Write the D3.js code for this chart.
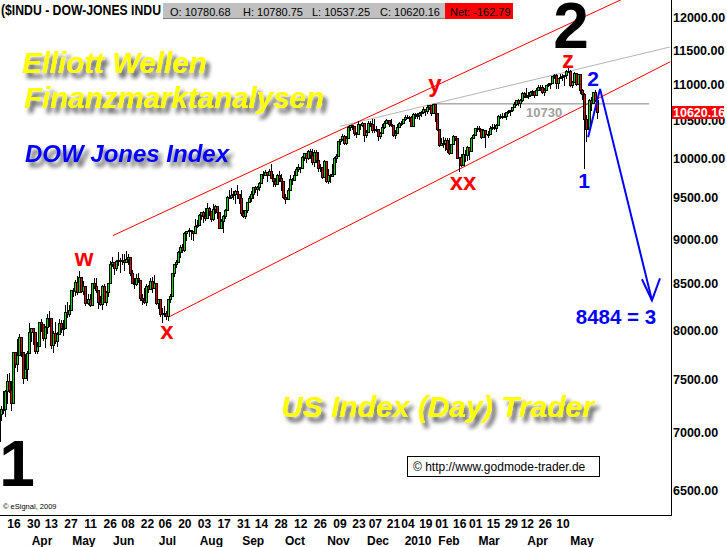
<!DOCTYPE html>
<html><head><meta charset="utf-8">
<script src="https://cdn.jsdelivr.net/npm/d3@7"></script>
<style>body{margin:0;background:#fff;overflow:hidden}svg{display:block}</style>
</head><body>
<script>
// Daily candles [open, high, low, close], DJIA, 11 Mar 2009 .. 14 May 2010
const mar09=[[6926,7022,6882,6930],[6930,7172,6851,7170],[7170,7250,7118,7224],[7224,7392,7181,7217],[7217,7402,7157,7396],[7396,7557,7278,7487],[7487,7563,7382,7401],[7401,7487,7214,7278],[7278,7776,7278,7776],[7776,7776,7621,7660],[7660,7905,7589,7750],[7750,7958,7750,7925],[7925,7925,7738,7776],[7776,7776,7468,7522],[7522,7753,7522,7609]];
const apr09=[[7609,7788,7500,7762],[7762,8076,7762,7978],[7978,8026,7890,8018],[8018,8018,7854,7976],[7976,7976,7768,7790],[7790,7880,7770,7837],[7837,8083,7837,8083],[8083,8118,7990,8058],[8058,8058,7900,7920],[7920,8045,7830,8030],[8030,8170,7970,8125],[8125,8197,8040,8131],[8131,8131,7820,7842],[7842,7985,7780,7970],[7970,8088,7868,7887],[7887,7980,7840,7957],[7957,8120,7957,8076],[8076,8100,7980,8025],[8025,8100,7950,8017],[8017,8269,8017,8186],[8186,8300,8140,8168]];
const may09=[[8168,8260,8150,8212],[8212,8427,8212,8427],[8427,8450,8360,8411],[8411,8536,8370,8512],[8512,8580,8380,8410],[8410,8640,8410,8575],[8575,8575,8400,8419],[8419,8530,8380,8469],[8469,8469,8260,8285],[8285,8380,8280,8331],[8331,8380,8250,8269],[8269,8504,8269,8504],[8504,8560,8450,8475],[8475,8560,8400,8422],[8422,8422,8230,8292],[8292,8360,8260,8277],[8277,8480,8220,8473],[8473,8490,8300,8300],[8300,8420,8260,8404],[8404,8500,8360,8500]];
const jun09=[[8500,8750,8500,8721],[8721,8800,8690,8741],[8741,8741,8600,8675],[8675,8760,8650,8750],[8750,8850,8700,8763],[8763,8790,8630,8764],[8764,8830,8720,8763],[8763,8830,8650,8739],[8739,8870,8739,8771],[8771,8830,8720,8799],[8799,8799,8590,8612],[8612,8650,8500,8505],[8505,8560,8450,8497],[8497,8600,8480,8556],[8556,8620,8520,8540],[8540,8540,8320,8339],[8339,8380,8280,8323],[8323,8450,8290,8300],[8300,8490,8260,8472],[8472,8480,8400,8438],[8438,8560,8438,8529],[8529,8570,8400,8447]];
const jul09=[[8447,8590,8447,8504],[8504,8504,8270,8281],[8281,8330,8230,8325],[8325,8325,8150,8164],[8164,8230,8087,8178],[8178,8250,8150,8183],[8183,8200,8120,8147],[8147,8332,8100,8332],[8332,8380,8300,8359],[8359,8620,8359,8616],[8616,8720,8580,8712],[8712,8760,8680,8744],[8744,8860,8744,8848],[8848,8930,8800,8916],[8916,8940,8850,8881],[8881,9088,8870,9069],[9069,9100,8990,9093],[9093,9130,9040,9109],[9109,9110,9000,9097],[9097,9100,8990,9071],[9071,9240,9071,9154],[9154,9230,9140,9172]];
const aug09=[[9172,9300,9172,9287],[9287,9330,9240,9320],[9320,9340,9200,9281],[9281,9370,9230,9256],[9256,9440,9256,9370],[9370,9390,9290,9338],[9338,9338,9220,9241],[9241,9420,9230,9362],[9362,9410,9310,9398],[9398,9400,9250,9321],[9321,9321,9130,9135],[9135,9240,9135,9218],[9218,9290,9080,9279],[9279,9360,9250,9350],[9350,9520,9350,9506],[9506,9600,9490,9509],[9509,9620,9500,9539],[9539,9580,9480,9544],[9544,9590,9440,9581],[9581,9660,9500,9544],[9544,9544,9440,9496]];
const sep09=[[9496,9590,9290,9311],[9311,9350,9260,9281],[9281,9350,9250,9345],[9345,9450,9320,9441],[9441,9520,9441,9497],[9497,9580,9460,9547],[9547,9630,9500,9627],[9627,9650,9570,9605],[9605,9640,9530,9627],[9627,9700,9590,9683],[9683,9800,9680,9792],[9792,9830,9750,9784],[9784,9850,9780,9820],[9820,9820,9710,9779],[9779,9860,9779,9830],[9830,9920,9740,9749],[9749,9800,9650,9707],[9707,9750,9640,9665],[9665,9800,9665,9789],[9789,9830,9710,9742],[9742,9790,9600,9712]];
const oct09=[[9712,9712,9500,9509],[9509,9540,9430,9488],[9488,9620,9480,9600],[9600,9780,9600,9731],[9731,9740,9670,9726],[9726,9830,9726,9787],[9787,9880,9780,9865],[9865,9920,9840,9886],[9886,9890,9820,9871],[9871,10030,9871,10016],[10016,10070,9970,10063],[10063,10063,9950,9996],[9996,10100,9990,10092],[10092,10120,10000,10041],[10041,10119,9920,9949],[9949,10100,9900,10081],[10081,10110,9950,9972],[9972,10080,9840,9868],[9868,9930,9840,9882],[9882,9882,9740,9763],[9763,9980,9763,9963],[9963,9963,9700,9713]];
const nov09=[[9713,9860,9680,9789],[9789,9800,9700,9772],[9772,9930,9770,9802],[9802,10010,9802,10006],[10006,10050,9950,10023],[10023,10230,10023,10227],[10227,10250,10180,10247],[10247,10320,10240,10291],[10291,10310,10180,10197],[10197,10290,10190,10270],[10270,10430,10270,10407],[10407,10440,10370,10437],[10437,10440,10380,10426],[10426,10426,10300,10332],[10332,10340,10280,10318],[10318,10500,10318,10451],[10451,10460,10390,10434],[10434,10480,10430,10464],[10464,10464,10230,10310],[10310,10370,10280,10345]];
const dec09=[[10345,10490,10345,10472],[10472,10500,10430,10453],[10453,10520,10350,10366],[10366,10520,10340,10389],[10389,10430,10360,10390],[10390,10390,10240,10286],[10286,10350,10260,10337],[10337,10450,10337,10406],[10406,10500,10400,10472],[10472,10520,10470,10501],[10501,10510,10430,10452],[10452,10520,10430,10441],[10441,10441,10290,10308],[10308,10370,10270,10329],[10329,10450,10329,10414],[10414,10480,10410,10465],[10465,10490,10440,10466],[10466,10520,10466,10520],[10520,10580,10510,10547],[10547,10580,10540,10545],[10545,10560,10500,10549],[10549,10560,10428,10428]];
const jan10=[[10428,10605,10428,10584],[10584,10600,10530,10572],[10572,10600,10540,10574],[10574,10620,10520,10607],[10607,10630,10560,10618],[10618,10690,10610,10664],[10664,10664,10570,10627],[10627,10710,10600,10681],[10681,10720,10660,10711],[10711,10712,10570,10610],[10610,10730,10600,10725],[10725,10725,10500,10603],[10603,10610,10370,10390],[10390,10390,10160,10173],[10173,10270,10170,10197],[10197,10280,10140,10194],[10194,10260,10100,10236],[10236,10260,10080,10120],[10120,10270,10050,10067]];
const feb10=[[10067,10190,10067,10186],[10186,10310,10180,10297],[10297,10297,10240,10271],[10271,10271,10000,10002],[10002,10020,9835,10012],[10012,10060,9900,9908],[9908,10140,9908,10059],[10059,10100,9960,10038],[10038,10160,9980,10144],[10144,10144,9990,10099],[10099,10280,10099,10269],[10269,10320,10260,10309],[10309,10400,10300,10393],[10393,10430,10360,10402],[10402,10430,10360,10383],[10383,10390,10260,10282],[10282,10390,10282,10374],[10374,10374,10150,10321],[10321,10360,10280,10325]];
const mar10=[[10325,10420,10325,10404],[10404,10460,10390,10406],[10406,10460,10380,10397],[10397,10450,10360,10444],[10444,10570,10444,10566],[10566,10590,10540,10553],[10553,10600,10530,10564],[10564,10610,10550,10568],[10568,10612,10520,10612],[10612,10650,10600,10625],[10625,10650,10570,10642],[10642,10690,10630,10686],[10686,10760,10686,10734],[10734,10780,10710,10779],[10779,10800,10710,10742],[10742,10800,10690,10786],[10786,10900,10770,10889],[10889,10890,10820,10836],[10836,10950,10830,10841],[10841,10900,10810,10850],[10850,10910,10840,10896],[10896,10920,10860,10907],[10907,10907,10830,10857]];
const apr10=[[10857,10960,10850,10927],[10927,10990,10920,10974],[10974,11000,10930,10970],[10970,10990,10880,10898],[10898,10950,10850,10927],[10927,11000,10920,10997],[10997,11030,10980,11006],[11006,11030,10960,11019],[11019,11130,11019,11123],[11123,11160,11100,11145],[11145,11150,10950,11019],[11019,11100,10960,11092],[11092,11150,11090,11117],[11117,11160,11070,11125],[11125,11140,11000,11134],[11134,11210,11100,11204],[11204,11258,11190,11205],[11205,11210,10980,10992],[10992,11060,10970,11045],[11045,11180,11045,11167],[11167,11170,11000,11009]];
const may10=[[11009,11160,11009,11152],[11152,11152,10880,10927],[10927,10940,10800,10868],[10868,10880,9870,10520],[10520,10580,10220,10380],[10380,10800,10380,10785],[10785,10830,10640,10748],[10748,10900,10740,10897],[10897,10920,10770,10783],[10781,10781,10537,10620]];

// Axis labels
const priceTicks=[6500,7000,7500,8000,8500,9000,9500,10000,10500,11000,11500,12000];
const dayLabels=["16","30","13","27","11","26","08","22","06","20","03","17","31","14","28","12","26","09","23","07","21","04","19","01","16","01","15","29","12","26","10"];
const dayIdx=[3,13,22,32,42,52,61,71,80,90,100,110,120,129,139,149,159,169,179,188,198,206,216,225,235,244,254,264,273,283,293];
const monthLabels=["Apr","May","Jun","Jul","Aug","Sep","Oct","Nov","Dec","2010","Feb","Mar","Apr","May"];
const monthIdx=[15,36,56,78,100,121,142,164,184,206,225,244,267,288];

// Header values
const lastO=10780.68, lastH=10780.75, lastL=10537.25, lastC=10620.16, netChg=-162.79;

// Annotation lines in (bar index, price)
const upperChannel=[[57.6,9044],[330,12600]];
const lowerChannel=[[84.9,8133],[333.4,11332]];
const greyTrend=[[170,10422],[333.4,11553]];
const level10730=[[216,10730],[323,10730]];
const blueWave=[[292.8,10274],[298.7,10941],[324.4,8315]];

const W=727,H=547, plotR=671, plotB=515;
const bars=[].concat(mar09,apr09,may09,jun09,jul09,aug09,sep09,oct09,nov09,dec09,jan10,feb10,mar10,apr10,may10);

const x=d3.scaleLinear().domain([0,297]).range([-3.4,596.6]);
const y=d3.scaleLog().domain([6500,12000]).range([490,17.7]);
// eSignal's time-axis label layout (labels are packed, not exactly under their bars)
const dayLabelScale=d3.scaleLinear().domain([3,169,179,206,293]).range([14,340,359,408,563]);
const monthLabelScale=d3.scaleLinear().domain([15,142,184,206,225,288]).range([42,295,378,418,449,582]);

const svg=d3.select("body").append("svg").attr("width",W).attr("height",H)
  .style("font-family","'Liberation Sans',Arial,sans-serif");
const defs=svg.append("defs");
defs.append("clipPath").attr("id","plot").append("rect").attr("x",0).attr("y",0).attr("width",plotR).attr("height",plotB);
const f=defs.append("filter").attr("id","sh").attr("x","-10%").attr("y","-40%").attr("width","130%").attr("height","190%");
f.append("feGaussianBlur").attr("in","SourceAlpha").attr("stdDeviation",2.2).attr("result","b");
f.append("feOffset").attr("in","b").attr("dx",4).attr("dy",5).attr("result","o");
const ct=f.append("feComponentTransfer").attr("in","o").attr("result","t");
ct.append("feFuncA").attr("type","linear").attr("slope",0.65);
const fm=f.append("feMerge"); fm.append("feMergeNode").attr("in","t"); fm.append("feMergeNode").attr("in","SourceGraphic");

svg.append("rect").attr("width",W).attr("height",H).attr("fill","#fff");

function shText(t,xx,yy,size,col){
  svg.append("text").attr("x",xx).attr("y",yy).attr("font-size",size).attr("font-weight","bold")
   .attr("font-style","italic").attr("fill",col).attr("filter","url(#sh)").text(t);
}
shText("Elliott Wellen",22,73,29.5,"#ffff00");
shText("Finanzmarktanalysen",24,108,29.5,"#ffff00");
shText("DOW Jones Index",25,162,24,"#0000ff");
shText("US Index (Day) Trader",281,417,30,"#ffff00");

const g=svg.append("g").attr("clip-path","url(#plot)");
const line=d3.line().x(d=>x(d[0])).y(d=>y(d[1]));

g.append("path").attr("d",line(greyTrend)).attr("stroke","#b4b4b4").attr("fill","none").attr("stroke-width",1);
g.append("path").attr("d",line(upperChannel)).attr("stroke","#ff0000").attr("fill","none").attr("stroke-width",1);
g.append("path").attr("d",line(lowerChannel)).attr("stroke","#ff0000").attr("fill","none").attr("stroke-width",1);
g.append("path").attr("d",line(level10730)).attr("stroke","#808080").attr("fill","none").attr("stroke-width",1);

// candles
const cg=g.append("g").attr("shape-rendering","crispEdges");
bars.forEach((b,i)=>{
  const [o,h,l,c]=b; const xc=Math.round(x(i));
  cg.append("line").attr("x1",xc+0.5).attr("x2",xc+0.5).attr("y1",Math.round(y(h))).attr("y2",Math.round(y(l))+1).attr("stroke","#000");
  const top=Math.round(y(Math.max(o,c))), bot=Math.round(y(Math.min(o,c)));
  cg.append("rect").attr("x",xc-0.5).attr("y",top+0.5).attr("width",2).attr("height",Math.max(1,bot-top))
    .attr("fill",c>=o?"#00e000":"#e00000").attr("stroke","#000").attr("stroke-width",1);
});

// blue projection
g.append("path").attr("d",line(blueWave)).attr("stroke","#0000ff").attr("fill","none").attr("stroke-width",2);
const tip=blueWave[2];
const tx=x(tip[0]), ty=y(tip[1]);
g.append("path").attr("d",`M${tx-10},${ty-21}L${tx},${ty}L${tx+8},${ty-22}`).attr("stroke","#0000ff").attr("fill","none").attr("stroke-width",2);

svg.append("text").attr("x",526).attr("y",117).attr("font-size",13).attr("font-weight","bold").attr("fill","#a0a0a0").text("10730");

function lab(t,xx,yy,size,col,anchor){
  svg.append("text").attr("x",xx).attr("y",yy).attr("font-size",size).attr("font-weight","bold").attr("fill",col)
   .attr("text-anchor",anchor||"middle").text(t);
}
lab("w",84,266,24,"#ff0000");
lab("x",167,339,24,"#ff0000");
lab("y",435,92,24,"#ff0000");
lab("xx",463,190,24,"#ff0000");
lab("z",568,68,24,"#ff0000");
lab("1",584,188,21,"#0000ff");
lab("2",593,86,21,"#0000ff");
lab("8484 = 3",616,324,20.5,"#0000ff");
lab("2",571,48,64,"#000");
lab("1",17,486,64,"#000");

// frame
svg.append("line").attr("x1",plotR+0.5).attr("x2",plotR+0.5).attr("y1",0).attr("y2",plotB+1).attr("stroke","#000");
svg.append("line").attr("x1",0).attr("x2",plotR+1).attr("y1",plotB+0.5).attr("y2",plotB+0.5).attr("stroke","#000");

// right axis labels
priceTicks.forEach(v=>{
  svg.append("text").attr("x",plotR+2).attr("y",y(v)+4.5).attr("font-size",12.5).attr("font-weight","bold").attr("fill","#000").text(v.toFixed(2));
});
const cy=y(lastC);
svg.append("rect").attr("x",plotR+1).attr("y",Math.round(cy)-6).attr("width",52).attr("height",13).attr("fill","#ff0000");
svg.append("text").attr("x",plotR+2).attr("y",Math.round(cy)+5).attr("font-size",12.5).attr("font-weight","bold").attr("fill","#fff").text(lastC.toFixed(2));

// bottom axis
dayLabels.forEach((t,k)=>{
  svg.append("text").attr("x",dayLabelScale(dayIdx[k])).attr("y",528).attr("text-anchor","middle").attr("font-size",12).attr("font-weight","bold").text(t);
});
monthLabels.forEach((t,k)=>{
  svg.append("text").attr("x",monthLabelScale(monthIdx[k])).attr("y",545).attr("text-anchor","middle").attr("font-size",12).attr("font-weight","bold").text(t);
});
svg.append("text").attr("x",3).attr("y",509).attr("font-size",7.5).text("\u00a9 eSignal, 2009");

// header
svg.append("text").attr("x",1).attr("y",15).attr("font-size",15).attr("font-weight","bold").attr("textLength",160).attr("lengthAdjust","spacingAndGlyphs").text("($INDU - DOW-JONES INDU");
svg.append("rect").attr("x",163).attr("y",3).attr("width",282).attr("height",16).attr("fill","#c0c0c0");
svg.append("path").attr("d","M163,18.5H445.5V3").attr("stroke","#808080").attr("fill","none");
svg.append("rect").attr("x",445).attr("y",3).attr("width",68).attr("height",16).attr("fill","#ff0000");
const hdr=[["O: "+lastO.toFixed(2),170],["H: "+lastH.toFixed(2),243],["L: "+lastL.toFixed(2),312],["C: "+lastC.toFixed(2),380],["Net: "+netChg.toFixed(2),450]];
hdr.forEach(d=>svg.append("text").attr("x",d[1]).attr("y",16).attr("font-size",11).attr("fill","#000").text(d[0]));

// copyright box
svg.append("rect").attr("x",407.5).attr("y",456.5).attr("width",192).attr("height",20).attr("fill","#fff").attr("stroke","#000");
svg.append("text").attr("x",413).attr("y",471).attr("font-size",12).text("\u00a9 http://www.godmode-trader.de");
</script>
</body></html>
